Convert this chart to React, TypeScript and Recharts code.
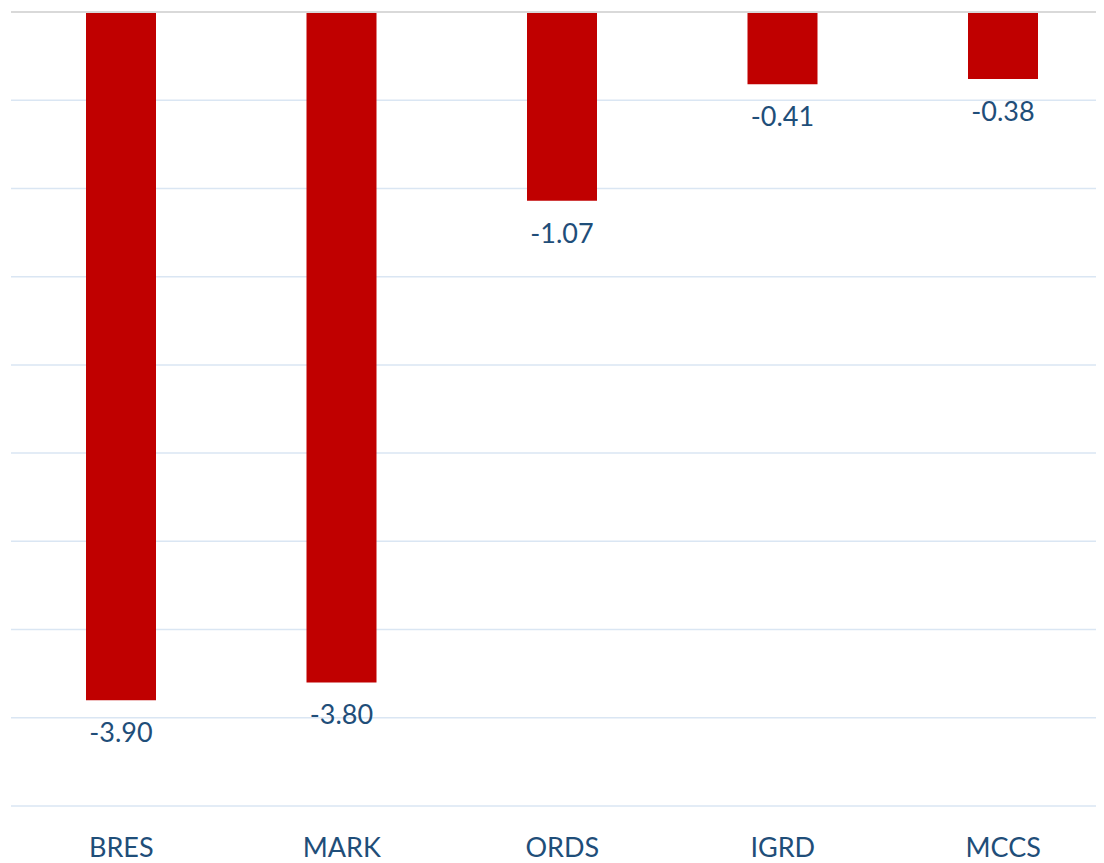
import React from 'react';
import { BarChart, Bar, XAxis, YAxis, CartesianGrid, ReferenceLine, LabelList } from 'recharts';

const categories = ['BRES', 'MARK', 'ORDS', 'IGRD', 'MCCS'];
const values = [-3.9, -3.8, -1.07, -0.41, -0.38];
const yTicks = [0, -0.5, -1, -1.5, -2, -2.5, -3, -3.5, -4, -4.5];

const data = categories.map((name, i) => ({ name, value: values[i] }));

const FONT = 'Lato, "Open Sans", sans-serif';
const TEXT_COLOR = '#1f4e79';

const ValueLabel = (props: any) => {
  const { x, y, width, height, value } = props;
  const bottom = Math.max(y, y + height);
  return (
    <text x={x + width / 2} y={bottom + 42} textAnchor="middle" fill={TEXT_COLOR} fontSize={27} fontFamily={FONT}>
      {Number(value).toFixed(2)}
    </text>
  );
};

const CategoryTick = (props: any) => {
  const { x, y, payload } = props;
  return (
    <text x={x} y={y + 51} textAnchor="middle" fill={TEXT_COLOR} fontSize={27} fontFamily={FONT}>
      {payload.value}
    </text>
  );
};

export default function App() {
  return (
    <div style={{ width: 1110, height: 855 }}>
      <style>{'html, body { overflow: hidden; }'}</style>
      <BarChart width={1110} height={855} data={data} margin={{ top: 4, left: 3, right: 4.5, bottom: 0 }}>
        <CartesianGrid horizontal vertical={false} stroke="#dae6f3" strokeWidth={1.5} />
        <XAxis
          dataKey="name"
          axisLine={false}
          tickLine={false}
          tickSize={0}
          tickMargin={0}
          height={57}
          tick={<CategoryTick />}
          interval={0}
        />
        <YAxis hide domain={[-4.5, 0]} ticks={yTicks} type="number" />
        <ReferenceLine y={0} stroke="#d9d9d9" strokeWidth={2} />
        <Bar dataKey="value" fill="#c00000" barSize={70} isAnimationActive={false}>
          <LabelList dataKey="value" content={<ValueLabel />} />
        </Bar>
      </BarChart>
    </div>
  );
}
